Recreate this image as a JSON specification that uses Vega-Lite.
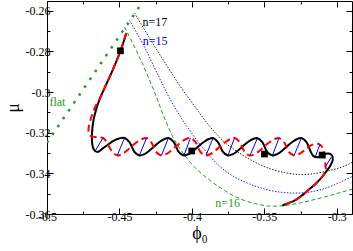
{
  "$schema": "https://vega.github.io/schema/vega-lite/v6.json",
  "width": 305,
  "height": 213,
  "autosize": "none",
  "padding": {"left": 47, "top": 1, "right": 1, "bottom": 37},
  "config": {
    "view": {"stroke": "black", "strokeWidth": 1},
    "font": "Liberation Serif",
    "axis": {"grid": false, "domain": false, "labelFont": "Liberation Serif", "titleFont": "Liberation Serif", "labelFontSize": 12, "labelColor": "black", "tickColor": "black", "titleColor": "black", "titleFontWeight": "normal", "labelFlush": false, "labelOverlap": false}
  },
  "resolve": {"axis": {"x": "independent", "y": "independent"}},
  "datasets": {
    "flat": [{"x": -0.5, "y": -0.3249}, {"x": -0.4333, "y": -0.2549}],
    "n17": [
      {"x": -0.4396, "y": -0.2611}, {"x": -0.4293, "y": -0.2734}, {"x": -0.4189, "y": -0.2852}, {"x": -0.4086, "y": -0.2966},
      {"x": -0.3982, "y": -0.3069}, {"x": -0.3879, "y": -0.3167}, {"x": -0.3775, "y": -0.3246}, {"x": -0.3672, "y": -0.33},
      {"x": -0.3568, "y": -0.3344}, {"x": -0.3465, "y": -0.3376}, {"x": -0.3361, "y": -0.3396}, {"x": -0.3257, "y": -0.3406},
      {"x": -0.3154, "y": -0.3401}, {"x": -0.305, "y": -0.3386}, {"x": -0.2947, "y": -0.3364}, {"x": -0.288, "y": -0.334}
    ],
    "n15": [
      {"x": -0.4431, "y": -0.2646}, {"x": -0.4327, "y": -0.2779}, {"x": -0.4224, "y": -0.2931}, {"x": -0.4155, "y": -0.3029},
      {"x": -0.4086, "y": -0.3113}, {"x": -0.4017, "y": -0.3187}, {"x": -0.3913, "y": -0.3285}, {"x": -0.381, "y": -0.3364},
      {"x": -0.3706, "y": -0.3418}, {"x": -0.3603, "y": -0.3452}, {"x": -0.3499, "y": -0.3477}, {"x": -0.3395, "y": -0.3492},
      {"x": -0.3292, "y": -0.3497}, {"x": -0.3188, "y": -0.3492}, {"x": -0.3085, "y": -0.3475}, {"x": -0.2981, "y": -0.3445},
      {"x": -0.288, "y": -0.341}
    ],
    "n16": [
      {"x": -0.4465, "y": -0.268}, {"x": -0.4362, "y": -0.2828}, {"x": -0.4258, "y": -0.3}, {"x": -0.4189, "y": -0.3128},
      {"x": -0.412, "y": -0.3236}, {"x": -0.4051, "y": -0.331}, {"x": -0.3982, "y": -0.3369}, {"x": -0.3879, "y": -0.3433},
      {"x": -0.3775, "y": -0.3484}, {"x": -0.3672, "y": -0.3524}, {"x": -0.3568, "y": -0.3548}, {"x": -0.3465, "y": -0.3561},
      {"x": -0.3361, "y": -0.3558}, {"x": -0.3257, "y": -0.3546}, {"x": -0.3085, "y": -0.3516}, {"x": -0.288, "y": -0.3475}
    ],
    "black": [
      {"x": -0.4453, "y": -0.271}, {"x": -0.4472, "y": -0.2754}, {"x": -0.4493, "y": -0.2798}, {"x": -0.452, "y": -0.2847},
      {"x": -0.4555, "y": -0.2906}, {"x": -0.4596, "y": -0.297}, {"x": -0.4631, "y": -0.3025}, {"x": -0.4658, "y": -0.3079},
      {"x": -0.4679, "y": -0.3138}, {"x": -0.4689, "y": -0.3197}, {"x": -0.4689, "y": -0.3246}, {"x": -0.4679, "y": -0.328},
      {"x": -0.4652, "y": -0.3295}, {"x": -0.4617, "y": -0.3278}, {"x": -0.4583, "y": -0.3261}, {"x": -0.4548, "y": -0.3243},
      {"x": -0.4514, "y": -0.3231},
      {"x": -0.4465, "y": -0.3226}, {"x": -0.4431, "y": -0.3246}, {"x": -0.4396, "y": -0.3295}, {"x": -0.4362, "y": -0.3312},
      {"x": -0.4327, "y": -0.3305}, {"x": -0.4293, "y": -0.3288}, {"x": -0.4258, "y": -0.3266}, {"x": -0.4224, "y": -0.3246},
      {"x": -0.4189, "y": -0.3231},
      {"x": -0.416, "y": -0.3226}, {"x": -0.4125, "y": -0.3246}, {"x": -0.4091, "y": -0.3295}, {"x": -0.4056, "y": -0.3312},
      {"x": -0.4022, "y": -0.3305}, {"x": -0.3987, "y": -0.3288}, {"x": -0.3953, "y": -0.3266}, {"x": -0.3918, "y": -0.3246},
      {"x": -0.3884, "y": -0.3231},
      {"x": -0.3854, "y": -0.3226}, {"x": -0.382, "y": -0.3246}, {"x": -0.3785, "y": -0.3295}, {"x": -0.3751, "y": -0.3312},
      {"x": -0.3716, "y": -0.3305}, {"x": -0.3682, "y": -0.3288}, {"x": -0.3647, "y": -0.3266}, {"x": -0.3613, "y": -0.3246},
      {"x": -0.3578, "y": -0.3231},
      {"x": -0.3549, "y": -0.3226}, {"x": -0.3514, "y": -0.3246}, {"x": -0.348, "y": -0.3295}, {"x": -0.3445, "y": -0.3312},
      {"x": -0.3411, "y": -0.3305}, {"x": -0.3376, "y": -0.3288}, {"x": -0.3342, "y": -0.3266}, {"x": -0.3307, "y": -0.3246},
      {"x": -0.3273, "y": -0.3231},
      {"x": -0.3244, "y": -0.3226}, {"x": -0.3209, "y": -0.3246}, {"x": -0.3182, "y": -0.329}, {"x": -0.3161, "y": -0.3315},
      {"x": -0.3126, "y": -0.332}, {"x": -0.3092, "y": -0.3307}, {"x": -0.3057, "y": -0.3302}, {"x": -0.3033, "y": -0.3312},
      {"x": -0.3028, "y": -0.3334}, {"x": -0.3044, "y": -0.3361}, {"x": -0.3071, "y": -0.3389}, {"x": -0.3106, "y": -0.3421},
      {"x": -0.3147, "y": -0.3452}, {"x": -0.3188, "y": -0.3477}, {"x": -0.3237, "y": -0.3507}, {"x": -0.3292, "y": -0.3534},
      {"x": -0.334, "y": -0.3548}, {"x": -0.3375, "y": -0.3558}
    ],
    "red": [
      {"x": -0.4453, "y": -0.271}, {"x": -0.4472, "y": -0.2754}, {"x": -0.4493, "y": -0.2798}, {"x": -0.452, "y": -0.2847},
      {"x": -0.4555, "y": -0.2906}, {"x": -0.4596, "y": -0.297}, {"x": -0.4631, "y": -0.3025}, {"x": -0.4672, "y": -0.308},
      {"x": -0.47, "y": -0.3138}, {"x": -0.4714, "y": -0.3187}, {"x": -0.4703, "y": -0.3214}, {"x": -0.4672, "y": -0.3221},
      {"x": -0.4638, "y": -0.3221}, {"x": -0.4607, "y": -0.3229}, {"x": -0.458, "y": -0.3258}, {"x": -0.4548, "y": -0.3295},
      {"x": -0.4514, "y": -0.3312},
      {"x": -0.4482, "y": -0.3305}, {"x": -0.4448, "y": -0.3288}, {"x": -0.4413, "y": -0.3266}, {"x": -0.4379, "y": -0.3246},
      {"x": -0.4344, "y": -0.3231},
      {"x": -0.4315, "y": -0.3226}, {"x": -0.4281, "y": -0.3246}, {"x": -0.4246, "y": -0.3295}, {"x": -0.4212, "y": -0.3312},
      {"x": -0.4177, "y": -0.3305}, {"x": -0.4143, "y": -0.3288}, {"x": -0.4108, "y": -0.3266}, {"x": -0.4074, "y": -0.3246},
      {"x": -0.4039, "y": -0.3231},
      {"x": -0.401, "y": -0.3226}, {"x": -0.3975, "y": -0.3246}, {"x": -0.3941, "y": -0.3295}, {"x": -0.3906, "y": -0.3312},
      {"x": -0.3872, "y": -0.3305}, {"x": -0.3837, "y": -0.3288}, {"x": -0.3803, "y": -0.3266}, {"x": -0.3768, "y": -0.3246},
      {"x": -0.3734, "y": -0.3231},
      {"x": -0.3704, "y": -0.3226}, {"x": -0.367, "y": -0.3246}, {"x": -0.3635, "y": -0.3295}, {"x": -0.3601, "y": -0.3312},
      {"x": -0.3566, "y": -0.3305}, {"x": -0.3532, "y": -0.3288}, {"x": -0.3497, "y": -0.3266}, {"x": -0.3463, "y": -0.3246},
      {"x": -0.3428, "y": -0.3231},
      {"x": -0.3399, "y": -0.3226}, {"x": -0.3364, "y": -0.3246}, {"x": -0.333, "y": -0.3295}, {"x": -0.3295, "y": -0.3312},
      {"x": -0.3261, "y": -0.3305}, {"x": -0.3226, "y": -0.3288}, {"x": -0.3188, "y": -0.3266}, {"x": -0.3154, "y": -0.3256},
      {"x": -0.3122, "y": -0.3256}, {"x": -0.3097, "y": -0.3275}, {"x": -0.3085, "y": -0.3315}, {"x": -0.3078, "y": -0.3359},
      {"x": -0.3078, "y": -0.3393}, {"x": -0.3106, "y": -0.3421}, {"x": -0.3147, "y": -0.3452}, {"x": -0.3188, "y": -0.3477},
      {"x": -0.3237, "y": -0.3507}, {"x": -0.3292, "y": -0.3534}, {"x": -0.334, "y": -0.3548}, {"x": -0.3375, "y": -0.3558}
    ],
    "blue": [
      {"seg": 1, "x": -0.4672, "y": -0.3295}, {"seg": 1, "x": -0.461, "y": -0.3221},
      {"seg": 2, "x": -0.4514, "y": -0.331}, {"seg": 2, "x": -0.4465, "y": -0.3226},
      {"seg": 3, "x": -0.4362, "y": -0.3312}, {"seg": 3, "x": -0.4313, "y": -0.3226},
      {"seg": 4, "x": -0.421, "y": -0.3312}, {"seg": 4, "x": -0.4162, "y": -0.3226},
      {"seg": 5, "x": -0.4055, "y": -0.3312}, {"seg": 5, "x": -0.401, "y": -0.3226},
      {"seg": 6, "x": -0.3903, "y": -0.3312}, {"seg": 6, "x": -0.3854, "y": -0.3226},
      {"seg": 7, "x": -0.3751, "y": -0.3312}, {"seg": 7, "x": -0.3706, "y": -0.3226},
      {"seg": 8, "x": -0.3599, "y": -0.3312}, {"seg": 8, "x": -0.3547, "y": -0.3226},
      {"seg": 9, "x": -0.3444, "y": -0.3312}, {"seg": 9, "x": -0.3399, "y": -0.3226},
      {"seg": 10, "x": -0.3295, "y": -0.3312}, {"seg": 10, "x": -0.3244, "y": -0.3226},
      {"seg": 11, "x": -0.3147, "y": -0.3315}, {"seg": 11, "x": -0.3116, "y": -0.3258},
      {"seg": 12, "x": -0.3081, "y": -0.3369}, {"seg": 12, "x": -0.3037, "y": -0.332}
    ],
    "squares": [
      {"x": -0.4493, "y": -0.2797}, {"x": -0.4001, "y": -0.329}, {"x": -0.3499, "y": -0.3305}, {"x": -0.3101, "y": -0.331}
    ],
    "labels": [
      {"label": "flat", "x": -0.4928, "y": -0.3049},
      {"label": "n=17", "x": -0.4255, "y": -0.2654},
      {"label": "n=15", "x": -0.4253, "y": -0.275},
      {"label": "n=16", "x": -0.3754, "y": -0.3548}
    ]
  },
  "layer": [
    {
      "data": {"name": "flat"},
      "mark": {"type": "line", "stroke": "#1aa01a", "strokeWidth": 2.5, "strokeDash": [2.5, 7], "clip": true},
      "encoding": {
        "x": {"field": "x", "type": "quantitative", "scale": {"domain": [-0.5, -0.2895], "nice": false, "zero": false},
          "axis": {"orient": "bottom", "values": [-0.5, -0.45, -0.4, -0.35, -0.3], "tickSize": -6, "labelPadding": 3,
            "labelExpr": "'-' + format(abs(datum.value), '~g')", "title": "ϕ₀", "titleFontSize": 18, "titlePadding": 2}},
        "y": {"field": "y", "type": "quantitative", "scale": {"domain": [-0.36, -0.2552], "nice": false, "zero": false},
          "axis": {"orient": "left", "values": [-0.36, -0.34, -0.32, -0.3, -0.28, -0.26], "tickSize": -6, "labelPadding": 3,
            "labelExpr": "'-' + format(abs(datum.value), '~g')", "title": "μ", "titleFontSize": 18, "titlePadding": 3}},
        "order": {"value": null}
      }
    },
    {
      "data": {"name": "n17"},
      "mark": {"type": "line", "stroke": "#222222", "strokeWidth": 1, "strokeDash": [1.5, 1.5], "interpolate": "catmull-rom", "clip": true},
      "encoding": {
        "x": {"field": "x", "type": "quantitative", "scale": {"domain": [-0.5, -0.2895], "nice": false, "zero": false},
          "axis": {"orient": "bottom", "values": [-0.475, -0.425, -0.375, -0.325], "tickSize": -3, "labels": false, "title": null}},
        "y": {"field": "y", "type": "quantitative", "scale": {"domain": [-0.36, -0.2552], "nice": false, "zero": false},
          "axis": {"orient": "left", "values": [-0.35, -0.33, -0.31, -0.29, -0.27], "tickSize": -3, "labels": false, "title": null}},
        "order": {"value": null}
      }
    },
    {
      "data": {"name": "n15"},
      "mark": {"type": "line", "stroke": "#2020ff", "strokeWidth": 1, "strokeDash": [1.5, 1.5], "interpolate": "catmull-rom", "clip": true},
      "encoding": {
        "x": {"field": "x", "type": "quantitative", "scale": {"domain": [-0.5, -0.2895], "nice": false, "zero": false},
          "axis": {"orient": "top", "values": [-0.5, -0.45, -0.4, -0.35, -0.3], "tickSize": -6, "labels": false, "title": null}},
        "y": {"field": "y", "type": "quantitative", "scale": {"domain": [-0.36, -0.2552], "nice": false, "zero": false},
          "axis": {"orient": "right", "values": [-0.36, -0.34, -0.32, -0.3, -0.28, -0.26], "tickSize": -6, "labels": false, "title": null}},
        "order": {"value": null}
      }
    },
    {
      "data": {"name": "n16"},
      "mark": {"type": "line", "stroke": "#1aa01a", "strokeWidth": 1, "strokeDash": [4, 2.5], "interpolate": "catmull-rom", "clip": true},
      "encoding": {
        "x": {"field": "x", "type": "quantitative", "scale": {"domain": [-0.5, -0.2895], "nice": false, "zero": false},
          "axis": {"orient": "top", "values": [-0.475, -0.425, -0.375, -0.325], "tickSize": -3, "labels": false, "title": null}},
        "y": {"field": "y", "type": "quantitative", "scale": {"domain": [-0.36, -0.2552], "nice": false, "zero": false},
          "axis": {"orient": "right", "values": [-0.35, -0.33, -0.31, -0.29, -0.27], "tickSize": -3, "labels": false, "title": null}},
        "order": {"value": null}
      }
    },
    {
      "data": {"name": "black"},
      "mark": {"type": "line", "stroke": "black", "strokeWidth": 2, "interpolate": "catmull-rom", "clip": true},
      "encoding": {
        "x": {"field": "x", "type": "quantitative", "axis": null},
        "y": {"field": "y", "type": "quantitative", "axis": null},
        "order": {"value": null}
      }
    },
    {
      "data": {"name": "red"},
      "mark": {"type": "line", "stroke": "#ff0000", "strokeWidth": 2, "strokeDash": [7, 4], "interpolate": "catmull-rom", "clip": true},
      "encoding": {
        "x": {"field": "x", "type": "quantitative", "axis": null},
        "y": {"field": "y", "type": "quantitative", "axis": null},
        "order": {"value": null}
      }
    },
    {
      "data": {"name": "blue"},
      "mark": {"type": "line", "stroke": "#0000ff", "strokeWidth": 1, "clip": true},
      "encoding": {
        "x": {"field": "x", "type": "quantitative", "axis": null},
        "y": {"field": "y", "type": "quantitative", "axis": null},
        "detail": {"field": "seg", "type": "nominal"},
        "order": {"value": null}
      }
    },
    {
      "data": {"name": "squares"},
      "mark": {"type": "point", "shape": "square", "filled": true, "color": "black", "size": 45, "opacity": 1},
      "encoding": {
        "x": {"field": "x", "type": "quantitative", "axis": null},
        "y": {"field": "y", "type": "quantitative", "axis": null}
      }
    },
    {
      "data": {"name": "labels"},
      "mark": {"type": "text", "font": "Liberation Serif", "fontSize": 12, "align": "center", "baseline": "middle"},
      "encoding": {
        "x": {"field": "x", "type": "quantitative", "axis": null},
        "y": {"field": "y", "type": "quantitative", "axis": null},
        "text": {"field": "label", "type": "nominal"},
        "color": {"field": "label", "type": "nominal", "legend": null,
          "scale": {"domain": ["flat", "n=17", "n=15", "n=16"], "range": ["#1aa01a", "#000000", "#0000ff", "#1aa01a"]}}
      }
    }
  ]
}
